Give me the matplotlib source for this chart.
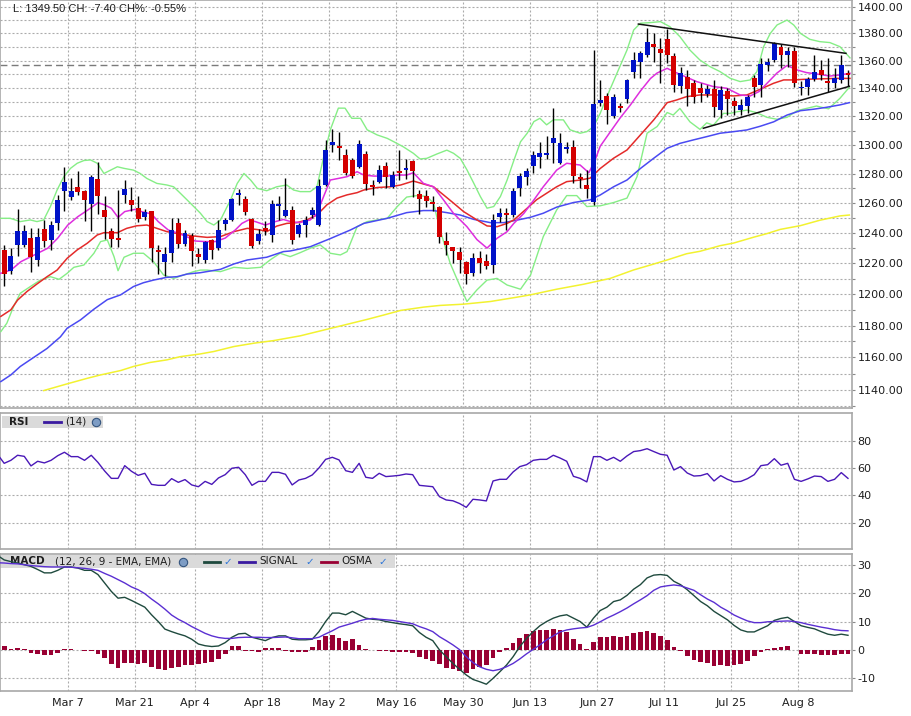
import matplotlib
matplotlib.use("Agg")
import matplotlib.pyplot as plt
from matplotlib.patches import Rectangle
from matplotlib.ticker import FixedLocator, FuncFormatter, NullFormatter

plt.rcParams["axes.unicode_minus"] = False

# ---------------------------------------------------------------
# Daily OHLC, one bar per trading day (index 0 = Feb 22)
# ---------------------------------------------------------------
opens = [1229, 1215, 1232, 1232, 1236.5, 1222, 1242.5, 1235.5, 1246.5, 1268,
         1264, 1271, 1268, 1259.5, 1276.5, 1255.5, 1241, 1236.5, 1265.5, 1262,
         1257, 1250.5, 1254.5, 1228.5, 1221, 1227, 1246.5, 1233, 1238, 1226,
         1222, 1235.5, 1230, 1246, 1248.5, 1265.5, 1263, 1249.5, 1234.5, 1243,
         1239, 1258, 1251.4, 1255.4, 1239.3, 1245, 1252, 1245.3, 1272.3, 1300,
         1299.3, 1292.9, 1289.5, 1284.5, 1293.6, 1272.3, 1274.6, 1285.4, 1271.1, 1282.2,
         1282.8, 1288.8, 1266, 1264.9, 1261.1, 1257.7, 1234.9, 1230.4, 1227.6, 1221.1,
         1213.5, 1223.4, 1221.8, 1218.9, 1250.4, 1253.6, 1252, 1270.6, 1278, 1285,
         1291.7, 1293, 1301.5, 1287.6, 1297, 1298.8, 1277.9, 1272.3, 1261, 1329.3,
         1334.5, 1320.4, 1327.4, 1332.1, 1352, 1359.2, 1364.1, 1372.2, 1368.2, 1375.7,
         1363.4, 1341.6, 1348.4, 1343.6, 1340, 1335.9, 1339.3, 1324.6, 1338.3, 1331,
         1324.6, 1327.3, 1347.2, 1342.4, 1356.8, 1360.4, 1370.3, 1364.1, 1367.3, 1339.9,
         1341.2, 1346.6, 1353.2, 1344.9, 1343.6, 1346, 1351.3]
highs = [1232, 1230, 1256, 1245, 1243, 1243, 1249, 1248, 1265.5, 1284.5,
         1277, 1282, 1269, 1279, 1288, 1265, 1243, 1269, 1276, 1271,
         1264.5, 1256, 1255, 1232, 1231, 1250, 1250, 1242, 1240, 1230,
         1235, 1236, 1248.5, 1250, 1263.5, 1269.5, 1264.5, 1250, 1242.5, 1248,
         1262, 1264.5, 1277, 1258, 1246.4, 1251.3, 1257.7, 1276.2, 1303.6, 1310.9,
         1309.3, 1297.4, 1290.6, 1303.6, 1295.9, 1275.7, 1286, 1288.4, 1282, 1296.7,
         1290, 1289.5, 1268.9, 1268.9, 1264.5, 1258.2, 1240.9, 1231, 1230.4, 1221.7,
         1226.6, 1228.2, 1226, 1252.7, 1256.5, 1256.5, 1270, 1280.2, 1283.8, 1295.9,
         1302.2, 1306.4, 1325.7, 1308.2, 1302.2, 1303.6, 1280.3, 1282.7, 1368, 1346.3,
         1336.4, 1335.7, 1329.6, 1346.4, 1366.6, 1367, 1383.7, 1380, 1376.3, 1383,
         1365.4, 1355.6, 1353.1, 1346, 1343.6, 1342.3, 1346, 1341.6, 1340, 1334,
         1332.1, 1335, 1349.6, 1361.6, 1362, 1374, 1372.2, 1370.3, 1370.3, 1344.9,
         1347.9, 1364, 1360.4, 1361.6, 1354.4, 1364.1, 1353.2]
lows = [1205, 1213, 1225, 1231, 1214.5, 1218.5, 1231, 1229, 1242, 1255,
        1262, 1265.5, 1248, 1241, 1253, 1236, 1231, 1231, 1260, 1255,
        1247, 1249, 1221, 1213, 1212, 1221, 1230, 1231.5, 1218, 1220,
        1220, 1223, 1229, 1242, 1248, 1259, 1252, 1230, 1232.5, 1239,
        1234, 1248.5, 1251, 1233, 1237.2, 1237.6, 1250, 1244.7, 1271.6, 1295.1,
        1289.5, 1279.1, 1276.8, 1283.7, 1268.9, 1265.6, 1273.9, 1270, 1270, 1275.7,
        1276.2, 1264, 1252.4, 1257.7, 1255, 1233.3, 1225.6, 1220, 1214, 1206.6,
        1212, 1213.5, 1216, 1213.5, 1247.6, 1242, 1250.4, 1264.5, 1272.3, 1280.7,
        1283.7, 1290, 1287.2, 1287, 1294, 1273.4, 1270, 1263.3, 1258.8, 1327,
        1314.5, 1319, 1323, 1329.3, 1347.2, 1347.2, 1362.9, 1359.2, 1343.6, 1358.5,
        1337.6, 1336.4, 1327.3, 1329.6, 1330.3, 1334, 1319.8, 1318.6, 1321, 1321,
        1321, 1322, 1334, 1334, 1352.7, 1359.2, 1354.4, 1355.6, 1340.7, 1335.2,
        1335.2, 1344.9, 1346, 1337.6, 1340, 1344.1, 1341.6]
closes = [1213, 1225, 1241, 1241, 1224, 1237.5, 1234.5, 1245.5, 1262, 1274.5,
          1268.5, 1267.5, 1262, 1277.5, 1264.5, 1250.5, 1236, 1235.5, 1269.5, 1259,
          1249.5, 1254, 1230, 1227.5, 1226, 1242, 1233, 1240, 1228, 1224,
          1234, 1228.5, 1242, 1248.5, 1262.5, 1267, 1254, 1231.5, 1239.5, 1241,
          1259.5, 1259.5, 1255.4, 1235.5, 1245.1, 1248.7, 1255.4, 1271.6, 1296.3, 1302.2,
          1297.9, 1280.7, 1278.4, 1300.5, 1273, 1271.1, 1282.6, 1278, 1278.9, 1280.4,
          1284.1, 1282.2, 1262.6, 1261.5, 1259.5, 1237.6, 1232.2, 1228.2, 1222.2, 1213.1,
          1223.6, 1220.5, 1218.3, 1248.7, 1253.6, 1252.3, 1268.2, 1278.4, 1282.2, 1292.9,
          1294.4, 1294.4, 1305, 1301.5, 1298.8, 1278.4, 1276.3, 1269.8, 1328.5, 1331.3,
          1324.6, 1333.5, 1326.2, 1345.9, 1360.4, 1365.4, 1374, 1369.8, 1365.8, 1364.1,
          1342.4, 1351.3, 1339.3, 1334, 1336.4, 1339.3, 1326.9, 1338.8, 1332.1, 1327.3,
          1328.3, 1334, 1340.7, 1357.5, 1359.2, 1372.8, 1364.1, 1367.3, 1344.1, 1341.2,
          1346.4, 1352, 1349.6, 1343.6, 1347.2, 1356.9, 1349.5]

# date labels and the bar they belong to
tick_idx = [10, 20, 29, 39, 49, 59, 69, 79, 89, 99, 109, 119]
tick_lbl = ["Mar 7", "Mar 21", "Apr 4", "Apr 18", "May 2", "May 16",
            "May 30", "Jun 13", "Jun 27", "Jul 11", "Jul 25", "Aug 8"]

# overlay lines (bar position, price)
fast_x = [-0.5, 1, 2.5, 4, 5, 6.5, 8, 9.5, 11, 12.5, 14, 15, 16, 17, 18, 19.5, 20.5, 22, 23, 24.5,
          26, 27.5, 28.5, 30, 31.5, 33, 34.5, 35.5, 36.5, 37.5, 39, 40.5, 41.7, 43, 44.2, 45.7, 46.7,
          47.7, 48.7, 49.9, 51.2, 52.7, 53.7, 55.2, 57.2, 58.7, 60.1, 61.1, 62.6, 64.1, 65.6, 67.1,
          69.1, 70.6, 72.1, 73.6, 75.1, 76.1, 77.6, 79.1, 80.5, 82.5, 84, 86, 87.3, 88.2, 89, 90.5,
          92, 93.5, 95, 96.5, 97.5, 99, 100, 101.5, 103.4, 105.9, 107.9, 109.9, 111.4, 112.7, 114,
          115.4, 116.9, 118.4, 119.8, 121.3, 123.3, 124.8, 126.3]
fast_y = [1213.5, 1215.6, 1221.1, 1224.4, 1226.6, 1229.9, 1236.6, 1245.3, 1250.9, 1255.4,
          1260.3, 1258.8, 1256.5, 1250.4, 1254.3, 1255.8, 1254.3, 1252.7, 1247.6, 1242.0,
          1239.8, 1237.1, 1234.7, 1234.3, 1234.3, 1236.6, 1242.0, 1246.4, 1248.7, 1247.6,
          1245.3, 1247.6, 1249.0, 1247.3, 1247.0, 1248.7, 1253.1, 1264.5, 1275.7, 1276.8,
          1278.0, 1281.4, 1279.1, 1278.4, 1278.4, 1279.1, 1279.1, 1280.7, 1273.4, 1271.1,
          1262.2, 1253.1, 1244.2, 1235.6, 1230.0, 1236.5, 1240.9, 1246.4, 1253.1, 1262.2,
          1271.1, 1282.5, 1287.2, 1286.0, 1280.7, 1289, 1299, 1309, 1319, 1328,
          1338, 1347, 1351, 1354.4, 1352.0, 1348.8, 1344.8, 1341.2, 1340.0, 1335.2,
          1334.5, 1337.6, 1344, 1351, 1356.5, 1353.2, 1351.3, 1350.3, 1348.8, 1349.6, 1350.8]

mid_x = [-0.5, 1, 2, 3.4, 4.9, 6.4, 7.9, 9.4, 10.9, 12.4, 13.9, 14.9, 16.9, 18.3, 19.8, 21.3,
         22.8, 24.3, 26.3, 28.3, 30.3, 32.3, 34.3, 36.3, 38.3, 39.2, 40.7, 42.2, 43.7, 45.2, 46.7,
         48.2, 49.7, 51.2, 52.7, 53.7, 55.7, 57.7, 59.2, 61.1, 62.6, 64.1, 65.6, 67.1, 68.6, 70.6,
         72.1, 73.6, 75.1, 76.1, 78.1, 79.5, 81.0, 82.5, 84.0, 86.0, 87.5, 89, 91, 93, 95, 97, 99,
         100.4, 101.9, 103.9, 106.9, 108.9, 110.9, 112.9, 114.9, 116.4, 117.9, 119.3, 121.3,
         124.3, 126.3]
mid_y = [1185.8, 1190.0, 1196.2, 1201.7, 1206.6, 1211.3, 1215.6, 1223.3, 1228.8, 1233.2,
         1238.7, 1240.2, 1240.2, 1243.1, 1244.8, 1245.3, 1243.1, 1240.9, 1239.3, 1238.0,
         1237.1, 1237.6, 1240.9, 1243.1, 1242.0, 1240.9, 1244.6, 1246.4, 1246.9, 1248.7,
         1252.0, 1258.9, 1263.4, 1265.6, 1267.1, 1268.9, 1270.6, 1271.1, 1272.3, 1275.0,
         1273.0, 1271.1, 1265.6, 1260.0, 1254.3, 1248.7, 1244.7, 1244.2, 1246.4, 1248.7,
         1256.6, 1262.3, 1266.7, 1271.1, 1274.6, 1275.7, 1277, 1283.6, 1290.7, 1296.4,
         1306.9, 1317.5, 1329.7, 1331.6, 1334.0, 1335.2, 1335.2, 1334.5, 1335.2, 1339.3,
         1343.6, 1346.0, 1346.0, 1346.4, 1346.7, 1347.1, 1347.1]

slow_x = [-0.5, 1, 2.4, 4.4, 6.4, 8.4, 9.4, 11.4, 13.4, 15.4, 17.4, 19.3, 20.8, 22.3, 24.3, 25.8,
          27.3, 29.3, 32.3, 34.3, 36.3, 39.2, 41.7, 42.7, 45.7, 48.7, 51.7, 53.7, 57.2, 60.1, 62.6,
          64.1, 66.1, 68.1, 70.1, 72.6, 74.6, 76.6, 78.6, 80.5, 82.5, 85.0, 87.5, 89, 91, 93, 95,
          97, 99, 100.9, 102.9, 104.9, 106.9, 108.9, 110.9, 112.9, 114.9, 116.9, 118.9, 120.8,
          122.8, 124.8, 126.2]
slow_y = [1145.1, 1149.2, 1154.4, 1160.0, 1165.6, 1172.9, 1178.3, 1183.6, 1190.4, 1196.5,
          1199.6, 1204.9, 1207.4, 1209.1, 1210.9, 1211.3, 1213.0, 1213.9, 1216.1, 1219.6,
          1222.2, 1224.0, 1227.7, 1228.1, 1230.9, 1236.3, 1242.0, 1246.4, 1249.8, 1253.6,
          1255.0, 1255.0, 1253.6, 1252.0, 1249.1, 1246.9, 1246.9, 1248.6, 1250.5, 1253.2,
          1257.3, 1260.4, 1262.2, 1265.5, 1271.1, 1275.7, 1283.6, 1290.7, 1297.6, 1301.0,
          1303.4, 1305.7, 1308.1, 1309.2, 1310.4, 1313.0, 1316.1, 1320.9, 1324.0, 1325.0,
          1326.4, 1328.1, 1329.7]

long_x = [5.9, 9.4, 12.4, 14.4, 17.4, 19.3, 21.8, 24.3, 26.3, 29.3, 31.3, 34.3, 37.3, 40.2, 42.2,
          44.2, 54.2, 56.7, 59.2, 62.6, 65.1, 68.6, 72.6, 76.6, 78.6, 82.5, 86.5, 90.5, 94.0, 96.5,
          99.0, 101.9, 103.9, 106.9, 108.9, 111.9, 113.9, 115.9, 118.9, 121.8, 124.8, 126.2]
long_y = [1139.6, 1143.7, 1147.1, 1149.2, 1151.9, 1154.4, 1156.9, 1158.5, 1160.5, 1162.2,
          1163.7, 1166.8, 1168.9, 1170.5, 1172.0, 1173.5, 1183.9, 1186.7, 1189.6, 1191.7,
          1192.8, 1193.6, 1195.3, 1198.1, 1199.6, 1203.2, 1206.4, 1210.2, 1215.7, 1218.9,
          1222.2, 1226.3, 1227.9, 1231.6, 1233.3, 1237.2, 1239.6, 1242.4, 1244.9, 1248.5,
          1251.4, 1252.0]

band_up_x = [-0.5, 0.9, 2.4, 3.9, 4.9, 5.9, 6.9, 7.9, 8.9, 9.9, 10.9, 11.9, 12.9, 13.9, 14.9,
             15.9, 16.9, 17.9, 19.3, 20.3, 21.3, 22.8, 24.3, 25.3, 26.3, 27.8, 29.3, 30.3, 31.3,
             32.3, 33.8, 34.8, 35.8, 36.8, 37.8, 39.2, 40.7, 42.2, 43.2, 44.2, 45.7, 46.7, 47.7,
             48.7, 49.9, 50.9, 51.9, 53.2, 54.2, 55.7, 57.2, 58.2, 59.6, 61.1, 62.1, 63.1, 64.6,
             66.1, 67.1, 68.1, 69.1, 70.1, 71.1, 72.1, 73.1, 74.1, 75.1, 76.1, 77.1, 78.1, 79.1,
             80.0, 81.0, 82.0, 83.5, 84.5, 86.0, 87.0, 88.0, 89.0, 90.0, 91.5, 93.0, 94.0, 95.0,
             96.5, 98.0, 99.4, 100.9, 102.4, 103.9, 105.4, 106.9, 108.4, 109.9, 111.4, 112.4,
             113.4, 114.4, 115.4, 116.9, 117.9, 118.9, 120.3, 121.8, 123.3, 124.8, 126.3]
band_up_y = [1249.8, 1249.8, 1247.6, 1248.7, 1247.6, 1248.7, 1257.7, 1268.9, 1277.9, 1283.7,
             1287.2, 1289.1, 1289.5, 1287.2, 1280.2, 1282.5, 1284.8, 1283.7, 1282.5, 1280.2,
             1276.8, 1273.4, 1272.3, 1271.1, 1266.7, 1260.0, 1253.2, 1247.6, 1245.3, 1248.7,
             1262.2, 1273.4, 1280.2, 1275.7, 1270.0, 1268.4, 1271.1, 1272.3, 1268.9, 1267.8,
             1267.8, 1271.1, 1291.3, 1310.5, 1325.8, 1325.8, 1318.6, 1318.6, 1310.5, 1306.9,
             1304.5, 1302.1, 1298.6, 1294.1, 1290.2, 1290.6, 1293.6, 1296.3, 1294.1, 1290.6,
             1282.7, 1273.7, 1264.5, 1256.6, 1257.7, 1264.5, 1275.7, 1289.1, 1302.1, 1308.1,
             1316.3, 1318.6, 1314.0, 1317.5, 1317.5, 1310.5, 1308.1, 1309.2, 1312.7, 1322.1,
             1334.0, 1350.8, 1367.7, 1382.5, 1387.5, 1388.0, 1388.7, 1385.0, 1377.6, 1367.7,
             1360.4, 1355.6, 1352.0, 1347.2, 1344.8, 1346.0, 1352.0, 1370.2, 1380.0, 1386.2,
             1389.9, 1386.2, 1380.0, 1375.6, 1373.9, 1373.2, 1370.2, 1362.0]

band_lo_x = [-0.5, 0.4, 1.4, 2.4, 3.9, 5.4, 6.9, 8.2, 9.4, 10.4, 11.9, 13.4, 14.4, 15.4, 16.4,
             17.0, 17.9, 19.3, 20.8, 22.3, 23.8, 25.3, 26.8, 28.3, 29.3, 30.3, 32.3, 34.3, 36.3,
             38.3, 39.7, 41.2, 42.7, 44.2, 45.7, 47.2, 48.7, 50.2, 51.2, 52.7, 54.2, 55.7, 57.2,
             58.7, 60.1, 61.6, 63.1, 64.1, 65.1, 66.6, 68.1, 69.1, 70.6, 72.1, 73.6, 75.1, 77.1,
             78.6, 80.5, 82.5, 84.0, 85.5, 87.0, 89.0, 91.0, 93.0, 94.5, 96.0, 97.5, 99.0, 99.9,
             100.9, 102.4, 103.9, 104.9, 105.9, 107.4, 108.4, 109.4, 110.9, 112.4, 113.9, 115.4,
             116.9, 118.4, 119.8, 121.3, 123.1, 124.8, 126.2]
band_lo_y = [1176.2, 1181.5, 1192.1, 1200.6, 1204.9, 1209.1, 1211.3, 1209.6, 1213.5, 1217.4,
             1218.9, 1226.6, 1234.3, 1235.4, 1224.4, 1215.2, 1224.0, 1226.6, 1226.6, 1221.1,
             1212.4, 1210.2, 1212.4, 1214.6, 1215.6, 1215.6, 1214.6, 1217.4, 1216.7, 1217.4,
             1222.2, 1226.6, 1224.4, 1227.0, 1229.9, 1232.1, 1226.6, 1225.5, 1227.7, 1244.2,
             1247.6, 1248.7, 1249.8, 1257.7, 1264.1, 1265.1, 1264.6, 1260.0, 1241.9, 1220.0,
             1204.9, 1195.3, 1202.8, 1209.1, 1210.2, 1205.9, 1203.2, 1212.4, 1237.6, 1255.4,
             1265.1, 1265.1, 1257.7, 1258.2, 1260.4, 1263.4, 1278.0, 1308.1, 1312.8, 1322.7,
             1320.9, 1325.6, 1316.1, 1310.8, 1315.4, 1313.7, 1322.1, 1322.1, 1323.2, 1324.4,
             1322.5, 1319.3, 1317.9, 1319.3, 1324.0, 1325.6, 1327.3, 1325.3, 1332.8, 1340.7]

# hand-drawn triangle
trend_hi_x = [94.7, 125.7]
trend_hi_y = [1386.9, 1365.3]
trend_lo_x = [104.4, 126.2]
trend_lo_y = [1311.6, 1341.4]

# RSI(14), MACD(12,26,9) and signal: one value per bar, starting at bar -1
rsi = [70.0,
       63.4, 65.6, 69.3, 68.5, 61.5, 64.9, 63.7, 65.6, 69.0, 71.5,
       68.3, 68.3, 65.6, 69.3, 64.1, 57.8, 52.4, 52.4, 61.7, 57.6,
       54.6, 56.1, 48.0, 47.3, 47.3, 52.2, 49.5, 51.5, 47.6, 46.3,
       50.2, 48.0, 52.7, 55.1, 59.8, 60.5, 55.1, 47.3, 50.2, 50.2,
       56.8, 56.8, 55.4, 47.6, 51.2, 52.4, 54.9, 60.0, 66.3, 67.8,
       65.9, 58.0, 56.8, 63.4, 53.2, 52.4, 56.1, 53.7, 54.1, 54.6,
       55.6, 55.1, 47.3, 46.8, 46.3, 39.0, 36.6, 36.0, 34.0, 31.2,
       37.1, 36.6, 35.9, 50.5, 51.7, 51.7, 57.1, 61.0, 62.4, 65.6,
       66.3, 66.3, 69.3, 67.3, 64.9, 53.9, 52.4, 49.8, 68.3, 68.3,
       65.6, 67.8, 64.9, 68.8, 72.0, 72.7, 74.1, 72.0, 70.0, 69.3,
       58.5, 61.0, 56.3, 54.1, 54.4, 55.9, 50.5, 54.4, 51.7, 49.8,
       50.2, 52.2, 55.1, 61.7, 62.4, 66.8, 62.0, 63.4, 51.7, 50.2,
       52.0, 54.1, 53.7, 50.2, 51.7, 56.6, 52.4]

macd = [33.5,
        31.9, 31.3, 30.8, 30.2, 29.6, 28.5, 27.3, 27.3, 28.2, 29.4,
        29.4, 29.0, 28.2, 28.2, 26.7, 23.7, 20.7, 18.3, 18.6, 17.5,
        16.3, 15.1, 12.4, 10.0, 7.3, 6.4, 5.6, 4.9, 3.7, 2.0,
        1.4, 1.1, 1.3, 2.5, 4.4, 5.6, 5.8, 4.4, 3.8, 3.2,
        4.3, 4.9, 4.9, 3.7, 3.5, 3.5, 3.7, 6.4, 10.0, 13.0,
        13.0, 12.4, 13.6, 12.4, 11.2, 10.8, 10.6, 10.0, 9.6, 9.2,
        8.9, 8.5, 6.1, 4.4, 3.2, -0.1, -2.5, -4.9, -7.0, -9.0,
        -10.6, -11.4, -12.3, -10.2, -7.9, -5.5, -2.5, 1.1, 4.0, 6.4,
        8.5, 10.0, 11.2, 12.0, 12.4, 11.2, 10.0, 8.0, 11.2, 13.9,
        15.1, 17.1, 17.7, 19.3, 21.5, 23.1, 25.5, 26.5, 26.7, 26.4,
        24.3, 23.1, 21.3, 19.2, 17.1, 15.6, 13.6, 12.1, 10.6, 8.6,
        7.0, 6.3, 6.3, 7.4, 8.5, 10.4, 11.1, 11.5, 10.0, 8.5,
        7.9, 7.4, 6.4, 5.5, 5.1, 5.5, 5.1]

signal = [30.9,
          30.8, 30.6, 30.5, 30.2, 29.9, 29.7, 29.5, 29.4, 29.4, 29.4,
          29.3, 29.1, 28.9, 28.6, 28.2, 27.1, 26.1, 24.9, 23.7, 22.3,
          21.3, 19.9, 18.0, 16.3, 14.4, 12.3, 10.8, 9.6, 8.2, 7.0,
          5.8, 4.9, 4.3, 4.0, 4.0, 4.3, 4.4, 4.4, 4.4, 4.3,
          4.3, 4.4, 4.5, 4.2, 3.9, 3.9, 3.9, 4.4, 5.6, 6.7,
          8.0, 8.7, 9.4, 10.2, 10.8, 11.1, 10.8, 10.6, 10.4, 10.0,
          9.6, 9.2, 8.2, 7.4, 6.4, 4.6, 3.2, 1.7, 0.0, -2.5,
          -4.6, -6.1, -7.0, -7.5, -7.0, -6.1, -4.9, -3.3, -1.5, 0.1,
          1.7, 3.5, 4.9, 6.3, 7.0, 7.4, 7.7, 7.9, 8.7, 9.9,
          11.2, 12.3, 13.5, 14.8, 16.3, 17.7, 19.2, 21.1, 22.3, 22.7,
          23.0, 22.7, 21.9, 21.1, 19.5, 18.0, 16.8, 15.1, 13.8, 12.3,
          11.2, 10.2, 9.6, 9.6, 9.9, 10.0, 10.1, 10.2, 10.0, 9.6,
          9.0, 8.5, 8.0, 7.6, 7.1, 6.8, 6.7]

# OSMA histogram, one value per bar from bar 0
osma = [1.3, 0.2, 0.6, 0.4, -1.1, -1.5, -2.0, -1.8, -1.1, 0.2,
        0.2, 0.0, -0.6, -0.5, -1.4, -2.9, -5.0, -6.4, -4.9, -4.9,
        -5.0, -4.6, -6.1, -7.0, -7.3, -6.4, -6.1, -5.6, -5.5, -5.2,
        -4.6, -4.3, -3.2, -1.7, 1.3, 1.3, -0.4, -0.4, -0.8, 0.5,
        0.6, 0.5, -0.4, -0.7, -0.7, -0.7, 0.8, 3.5, 4.9, 5.2,
        4.3, 3.2, 3.7, 1.7, 0.2, 0.0, -0.4, -0.5, -1.0, -1.0,
        -1.0, -1.1, -2.5, -3.2, -3.9, -5.1, -6.4, -7.0, -7.5, -8.2,
        -7.0, -6.3, -5.6, -3.1, -0.7, 0.6, 2.3, 4.0, 5.6, 6.7,
        7.0, 7.0, 7.4, 7.0, 6.2, 3.8, 2.0, 0.4, 2.7, 4.5,
        4.5, 4.9, 4.5, 4.9, 5.8, 6.2, 6.7, 6.0, 4.9, 3.5,
        1.0, -0.4, -2.1, -3.7, -4.4, -4.9, -5.7, -5.5, -5.8, -5.6,
        -5.1, -4.0, -2.3, -0.7, 0.3, 0.7, 1.0, 1.3, 0.0, -1.4,
        -1.7, -1.7, -1.8, -2.0, -2.0, -1.4, -1.4]

# ---------------------------------------------------------------
# Layout (pixel boxes of the three panels)
# ---------------------------------------------------------------
W, H = 912, 716
fig = plt.figure(figsize=(W / 100, H / 100), dpi=100)
fig.patch.set_facecolor("white")

BOX_P = (0.5, 0, 852, 408)
BOX_R = (0.5, 413.3, 852, 549.3)
BOX_M = (0.5, 554.3, 852, 690.7)


def add_panel(box):
    x0, y0, x1, y1 = box
    return fig.add_axes([x0 / W, 1 - y1 / H, (x1 - x0) / W, (y1 - y0) / H])


def to_ax(box, px, py):
    x0, y0, x1, y1 = box
    return (px - x0) / (x1 - x0), (y1 - py) / (y1 - y0)


ax_p = add_panel(BOX_P)
ax_r = add_panel(BOX_R)
ax_m = add_panel(BOX_M)

GRID = dict(color="#ababab", lw=0.8, ls=(0, (1.8, 1.8)))
SPINE = "#a8a8a8"
TXT = "#1e1e1e"
xvals = list(range(len(closes)))
x_ext = list(range(-1, len(closes)))
tick_pos = [i - 0.5 for i in tick_idx]

for ax in (ax_p, ax_r, ax_m):
    ax.set_xlim(-0.55, 126.6)
    ax.set_xticks(tick_pos)
    ax.yaxis.tick_right()
    ax.tick_params(axis="x", length=0)
    ax.tick_params(axis="y", which="both", length=2.5, width=0.8, color="#8a8a8a",
                   labelsize=8, labelcolor=TXT, pad=1.5)
    ax.set_axisbelow(True)
    for s in ax.spines.values():
        s.set_color(SPINE)
        s.set_linewidth(1.2)
    ax.xaxis.grid(True, **GRID)

# ---------------- price panel ----------------
ax_p.set_yscale("log")
ax_p.set_ylim(1129.0, 1404.9)
ax_p.yaxis.set_major_locator(FixedLocator(list(range(1140, 1401, 20))))
ax_p.yaxis.set_minor_locator(FixedLocator(list(range(1130, 1401, 20))))
ax_p.yaxis.set_major_formatter(FuncFormatter(lambda v, _: f"{v:.2f}"))
ax_p.yaxis.set_minor_formatter(NullFormatter())
ax_p.yaxis.grid(True, which="both", **GRID)
ax_p.tick_params(labelbottom=False)

prev_close = closes[-2]
ax_p.axhline(prev_close, color="#7a7a7a", lw=1.0, ls=(0, (5, 3)), zorder=2)

ax_p.plot(long_x, long_y, color="#f2f230", lw=1.1, zorder=3)
ax_p.plot(band_up_x, band_up_y, color="#86ee86", lw=1.0, zorder=3)
ax_p.plot(band_lo_x, band_lo_y, color="#86ee86", lw=1.0, zorder=3)
ax_p.plot(slow_x, slow_y, color="#4a4af2", lw=1.1, zorder=3)
ax_p.plot(mid_x, mid_y, color="#e42a2a", lw=1.1, zorder=3)
ax_p.plot(fast_x, fast_y, color="#de2ede", lw=1.1, zorder=3)

body_lo = [min(o, c) for o, c in zip(opens, closes)]
body_h = [max(abs(c - o), 0.7) for o, c in zip(opens, closes)]
body_col = ["#0012c8" if c >= o else "#d40000" for o, c in zip(opens, closes)]
ax_p.vlines(xvals, lows, highs, color="black", lw=1.0, zorder=4)
ax_p.bar(xvals, body_h, bottom=body_lo, width=0.74, color=body_col, lw=0, zorder=5)

ax_p.plot(trend_hi_x, trend_hi_y, color="#111111", lw=1.1, zorder=6)
ax_p.plot(trend_lo_x, trend_lo_y, color="#111111", lw=1.1, zorder=6)

chg = closes[-1] - prev_close
fig.text(13 / W, 1 - 9.5 / H,
         f"L: {closes[-1]:.2f} CH: {chg:.2f} CH%: {chg / prev_close * 100:.2f}%",
         fontsize=8, family="Liberation Sans", color=TXT, va="center", ha="left")

# ---------------- RSI panel ----------------
ax_r.set_ylim(0.5, 100.0)
ax_r.set_yticks([20, 40, 60, 80])
ax_r.yaxis.grid(True, **GRID)
ax_r.tick_params(labelbottom=False)
ax_r.plot(x_ext, rsi, color="#4a18b8", lw=1.0, zorder=3)

bx, by = to_ax(BOX_R, 2, 427.5)
ax_r.add_patch(Rectangle((bx, by), 101 / 851.5, 11.5 / 136, transform=ax_r.transAxes,
                         facecolor="#dadada", edgecolor="none", zorder=2))
ty = to_ax(BOX_R, 0, 421.5)[1]
ax_r.text(to_ax(BOX_R, 9, 0)[0], ty, "RSI", transform=ax_r.transAxes, fontsize=7.5,
          fontweight="bold", color=TXT, va="center", zorder=2.2)
ax_r.plot([to_ax(BOX_R, 44, 0)[0], to_ax(BOX_R, 61, 0)[0]], [ty, ty],
          transform=ax_r.transAxes, color="#3a1aa0", lw=2.0, zorder=2.2)
ax_r.text(to_ax(BOX_R, 65, 0)[0], ty, "(14)", transform=ax_r.transAxes, fontsize=7.5,
          color=TXT, va="center", zorder=2.2)
ax_r.plot([to_ax(BOX_R, 96, 0)[0]], [ty], transform=ax_r.transAxes, marker="o", ms=6,
          mfc="#7d9cc4", mec="#34547e", mew=0.8, zorder=2.3)

# ---------------- MACD panel ----------------
ax_m.set_ylim(-14.6, 33.9)
ax_m.set_yticks([-10, 0, 10, 20, 30])
ax_m.yaxis.grid(True, **GRID)
ax_m.set_xticklabels(tick_lbl)
ax_m.tick_params(axis="x", labelsize=8, labelcolor=TXT, pad=5)

ax_m.bar(xvals, osma, width=0.7, color="#990033", lw=0, zorder=2.5)
ax_m.plot(x_ext, macd, color="#1f4a3e", lw=1.0, zorder=3)
ax_m.plot(x_ext, signal, color="#5a2fd2", lw=1.0, zorder=3)

bx, by = to_ax(BOX_M, 0.5, 567.5)
ax_m.add_patch(Rectangle((bx, by), 394.5 / 851.5, 12.5 / 136.4, transform=ax_m.transAxes,
                         facecolor="#dadada", edgecolor="none", zorder=2))
ty = to_ax(BOX_M, 0, 561.5)[1]


def hx(px):
    return to_ax(BOX_M, px, 0)[0]


ax_m.text(hx(10), ty, "MACD", transform=ax_m.transAxes, fontsize=7.5, fontweight="bold",
          color=TXT, va="center", zorder=2.2)
ax_m.text(hx(55), ty, "(12, 26, 9 - EMA, EMA)", transform=ax_m.transAxes, fontsize=7.5,
          color=TXT, va="center", zorder=2.2)
ax_m.plot([hx(183)], [ty], transform=ax_m.transAxes, marker="o", ms=6,
          mfc="#7d9cc4", mec="#34547e", mew=0.8, zorder=2.3)
legend_items = [(204, "#1f4a3e", "", 228), (239, "#3a1aa0", "SIGNAL", 310),
                (321, "#990033", "OSMA", 383)]
for lx, col, name, cx in legend_items:
    ax_m.plot([hx(lx), hx(lx + 16)], [ty, ty], transform=ax_m.transAxes, color=col,
              lw=2.0, zorder=2.2)
    if name:
        ax_m.text(hx(lx + 20), ty, name, transform=ax_m.transAxes, fontsize=7.5,
                  color=TXT, va="center", zorder=2.2)
    ax_m.text(hx(cx), ty, "\u2713", transform=ax_m.transAxes, fontsize=7.5,
              fontweight="bold", color="#2a74d8", va="center", ha="center", zorder=2.2)

fig.savefig("out.png", dpi=100)
